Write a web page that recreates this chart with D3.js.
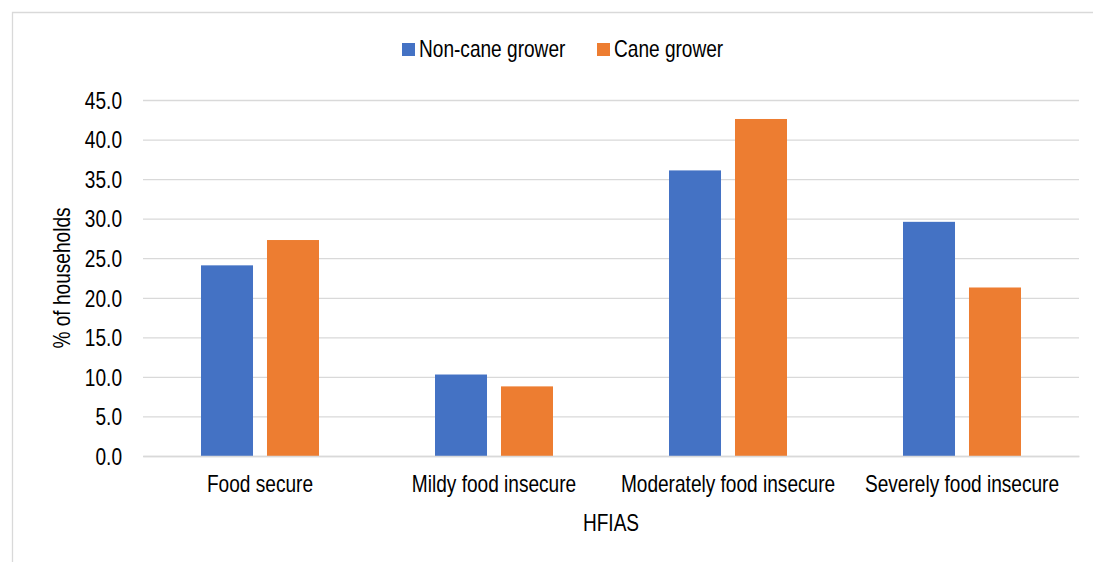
<!DOCTYPE html>
<html>
<head>
<meta charset="utf-8">
<script src="https://cdn.jsdelivr.net/npm/d3@7"></script>
<style>
  html, body { margin: 0; padding: 0; background: #fff; }
  svg { display: block; }
  text { font-family: "Liberation Sans", Arial, sans-serif; fill: #000; }
</style>
</head>
<body>
<svg id="chart" width="1093" height="562"></svg>
<script>
const categories = ["Food secure", "Mildy food insecure", "Moderately food insecure", "Severely food insecure"];
const seriesNames = ["Non-cane grower", "Cane grower"];
const nonCane = [24.1, 10.3, 36.1, 29.6];
const cane = [27.3, 8.8, 42.6, 21.3];
const yTicks = [0, 5, 10, 15, 20, 25, 30, 35, 40, 45];
const colors = ["#4472C4", "#ED7D31"];
const xTitle = "HFIAS";
const yTitle = "% of households";

const FONT = '"Liberation Sans", Arial, sans-serif';
const FS = 23;
const NARROW = 0.83;

// condense text horizontally (Arial Narrow look) with a scale transform
function narrow(sel) {
  sel.each(function () {
    const t = d3.select(this);
    const x = +(t.attr("x") || 0);
    const prev = t.attr("transform") || "";
    t.attr("x", x / NARROW).attr("transform", `${prev} scale(${NARROW},1)`.trim());
  });
}

const seriesValues = [nonCane, cane];
const rows = categories.map((c, i) => ({ cat: c, vals: seriesValues.map((s, j) => ({ name: seriesNames[j], v: s[i], j })) }));

const svg = d3.select("#chart");
const W = 1093, H = 562;
const plot = { left: 143, right: 1079, top: 100, bottom: 456 };

// chart area border
svg.append("path")
  .attr("d", `M12.5,${H} L12.5,12.5 L${W},12.5`)
  .attr("fill", "none").attr("stroke", "#d9d9d9").attr("stroke-width", 1.3);

const x0 = d3.scaleBand().domain(categories).range([plot.left, plot.right]).paddingInner(0).paddingOuter(0);
const x1 = d3.scaleBand().domain(seriesNames).range([0, x0.bandwidth()]).paddingInner(0.212).paddingOuter(0.879);
const y = d3.scaleLinear().domain([0, 45]).range([plot.bottom, plot.top]);

// gridlines + tick labels
const yAxis = d3.axisLeft(y).tickValues(yTicks).tickSize(-(plot.right - plot.left)).tickPadding(21).tickFormat(d3.format(".1f"));
const gy = svg.append("g").attr("transform", `translate(${plot.left},0)`).call(yAxis);
gy.select(".domain").remove();
gy.selectAll(".tick line").attr("stroke", "#d9d9d9").attr("stroke-width", 1.3);
gy.selectAll(".tick text").attr("font-size", FS).attr("fill", "#000").attr("dy", "0.36em")
  .style("font-family", FONT).call(narrow);

// bars
const groups = svg.append("g").selectAll("g").data(rows).join("g")
  .attr("transform", d => `translate(${x0(d.cat)},0)`);
groups.selectAll("rect").data(d => d.vals).join("rect")
  .attr("x", d => x1(d.name))
  .attr("width", x1.bandwidth())
  .attr("y", d => y(d.v))
  .attr("height", d => y(0) - y(d.v))
  .attr("fill", d => colors[d.j]);

// x axis
const xAxis = d3.axisBottom(x0).tickSize(0).tickPadding(20);
const gx = svg.append("g").attr("transform", `translate(0,${plot.bottom})`).call(xAxis);
gx.select(".domain").attr("stroke", "#d9d9d9").attr("stroke-width", 1.3);
gx.selectAll(".tick text").attr("font-size", FS).attr("fill", "#000")
  .style("font-family", FONT).call(narrow);

// axis titles
svg.append("text").attr("x", (plot.left + plot.right) / 2).attr("y", 531)
  .attr("text-anchor", "middle").attr("font-size", FS).text(xTitle).call(narrow);
svg.append("text").attr("transform", `translate(70,${(plot.top + plot.bottom) / 2}) rotate(-90)`)
  .attr("text-anchor", "middle").attr("font-size", FS).text(yTitle).call(narrow);

// legend
const legendItems = [{ name: seriesNames[0], x: 402 }, { name: seriesNames[1], x: 597 }];
const lg = svg.append("g");
legendItems.forEach((d, i) => {
  lg.append("rect").attr("x", d.x).attr("y", 43).attr("width", 13).attr("height", 13).attr("fill", colors[i]);
  lg.append("text").attr("x", d.x + 17).attr("y", 57).attr("font-size", FS).text(d.name).call(narrow);
});
</script>
</body>
</html>
